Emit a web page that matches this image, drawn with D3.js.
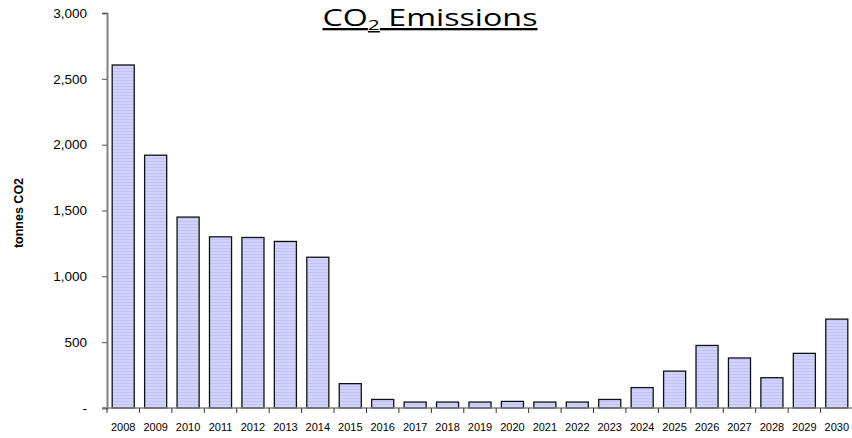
<!DOCTYPE html>
<html><head><meta charset="utf-8">
<script src="https://cdn.jsdelivr.net/npm/d3@7"></script>
<style>body{margin:0;background:#fff}svg{display:block}</style>
</head><body>
<svg id="c" width="852" height="438"></svg>
<script>
const years = ["2008","2009","2010","2011","2012","2013","2014","2015","2016","2017","2018","2019","2020","2021","2022","2023","2024","2025","2026","2027","2028","2029","2030"];
const emissions = [2605,1920,1450,1300,1295,1265,1145,185,65,45,45,45,50,45,45,65,155,280,475,380,230,415,675];
const yTicks = [0,500,1000,1500,2000,2500,3000];

const svg = d3.select("#c");
const defs = svg.append("defs");
const pat = defs.append("pattern").attr("id","stripe").attr("patternUnits","userSpaceOnUse").attr("width",4).attr("height",3);
pat.append("rect").attr("width",4).attr("height",3).attr("fill","#d2d2ff");
pat.append("rect").attr("y",2).attr("width",4).attr("height",1).attr("fill","#c2c2f6");

const x = d3.scaleBand().domain(years).range([107, 853]).paddingInner(0.32).paddingOuter(0.16);
const y = d3.scaleLinear().domain([0,3000]).range([408, 13]);

// bars
svg.append("g").selectAll("rect").data(years).join("rect")
  .attr("x", d => x(d))
  .attr("y", (d,i) => y(emissions[i]))
  .attr("width", x.bandwidth())
  .attr("height", (d,i) => y(0) - y(emissions[i]))
  .attr("fill","url(#stripe)")
  .attr("stroke","#111").attr("stroke-width",1.3);

// y axis
const yAxis = d3.axisLeft(y).tickValues(yTicks).tickSize(5).tickPadding(15)
  .tickFormat(d => d === 0 ? "-" : d3.format(",")(d));
const gy = svg.append("g").attr("transform","translate(107,0)").call(yAxis);
gy.select(".domain").attr("stroke","#808080").attr("stroke-width",2);
gy.selectAll(".tick line").attr("stroke","#555");
gy.selectAll("text").attr("font-family","Liberation Sans, Arial, sans-serif").attr("font-size",13.5).attr("fill","#000");

// x axis
const step = x.step();
const xAxis = d3.axisBottom(x).tickSize(0).tickPadding(15);
const gx = svg.append("g").attr("transform","translate(0,408)").call(xAxis);
gx.select(".domain").remove();
gx.selectAll("text").attr("font-family","Liberation Sans, Arial, sans-serif").attr("font-size",11).attr("fill","#000");
svg.append("line").attr("x1",102).attr("x2",852).attr("y1",408).attr("y2",408).attr("stroke","#808080").attr("stroke-width",1.5);
svg.append("g").selectAll("line").data(years).join("line")
  .attr("x1", d => x(d) - step*x.paddingInner()/2)
  .attr("x2", d => x(d) - step*x.paddingInner()/2)
  .attr("y1",408).attr("y2",413).attr("stroke","#333");

// y label
svg.append("text").attr("transform","translate(23,213) rotate(-90)")
  .attr("text-anchor","middle").attr("font-family","Liberation Sans, Arial, sans-serif")
  .attr("font-size",12.5).attr("font-weight","bold").text("tonnes CO2");

// title
const t = svg.append("text").attr("x",430).attr("y",26).attr("text-anchor","middle")
  .attr("font-family","Open Sans, Lato, sans-serif").attr("font-size",23).attr("text-decoration","underline")
  .attr("textLength",215).attr("lengthAdjust","spacingAndGlyphs");
t.append("tspan").text("CO");
t.append("tspan").attr("font-size",15).attr("dy",4).text("2");
t.append("tspan").attr("dy",-4).text(" Emissions");
</script>
</body></html>
